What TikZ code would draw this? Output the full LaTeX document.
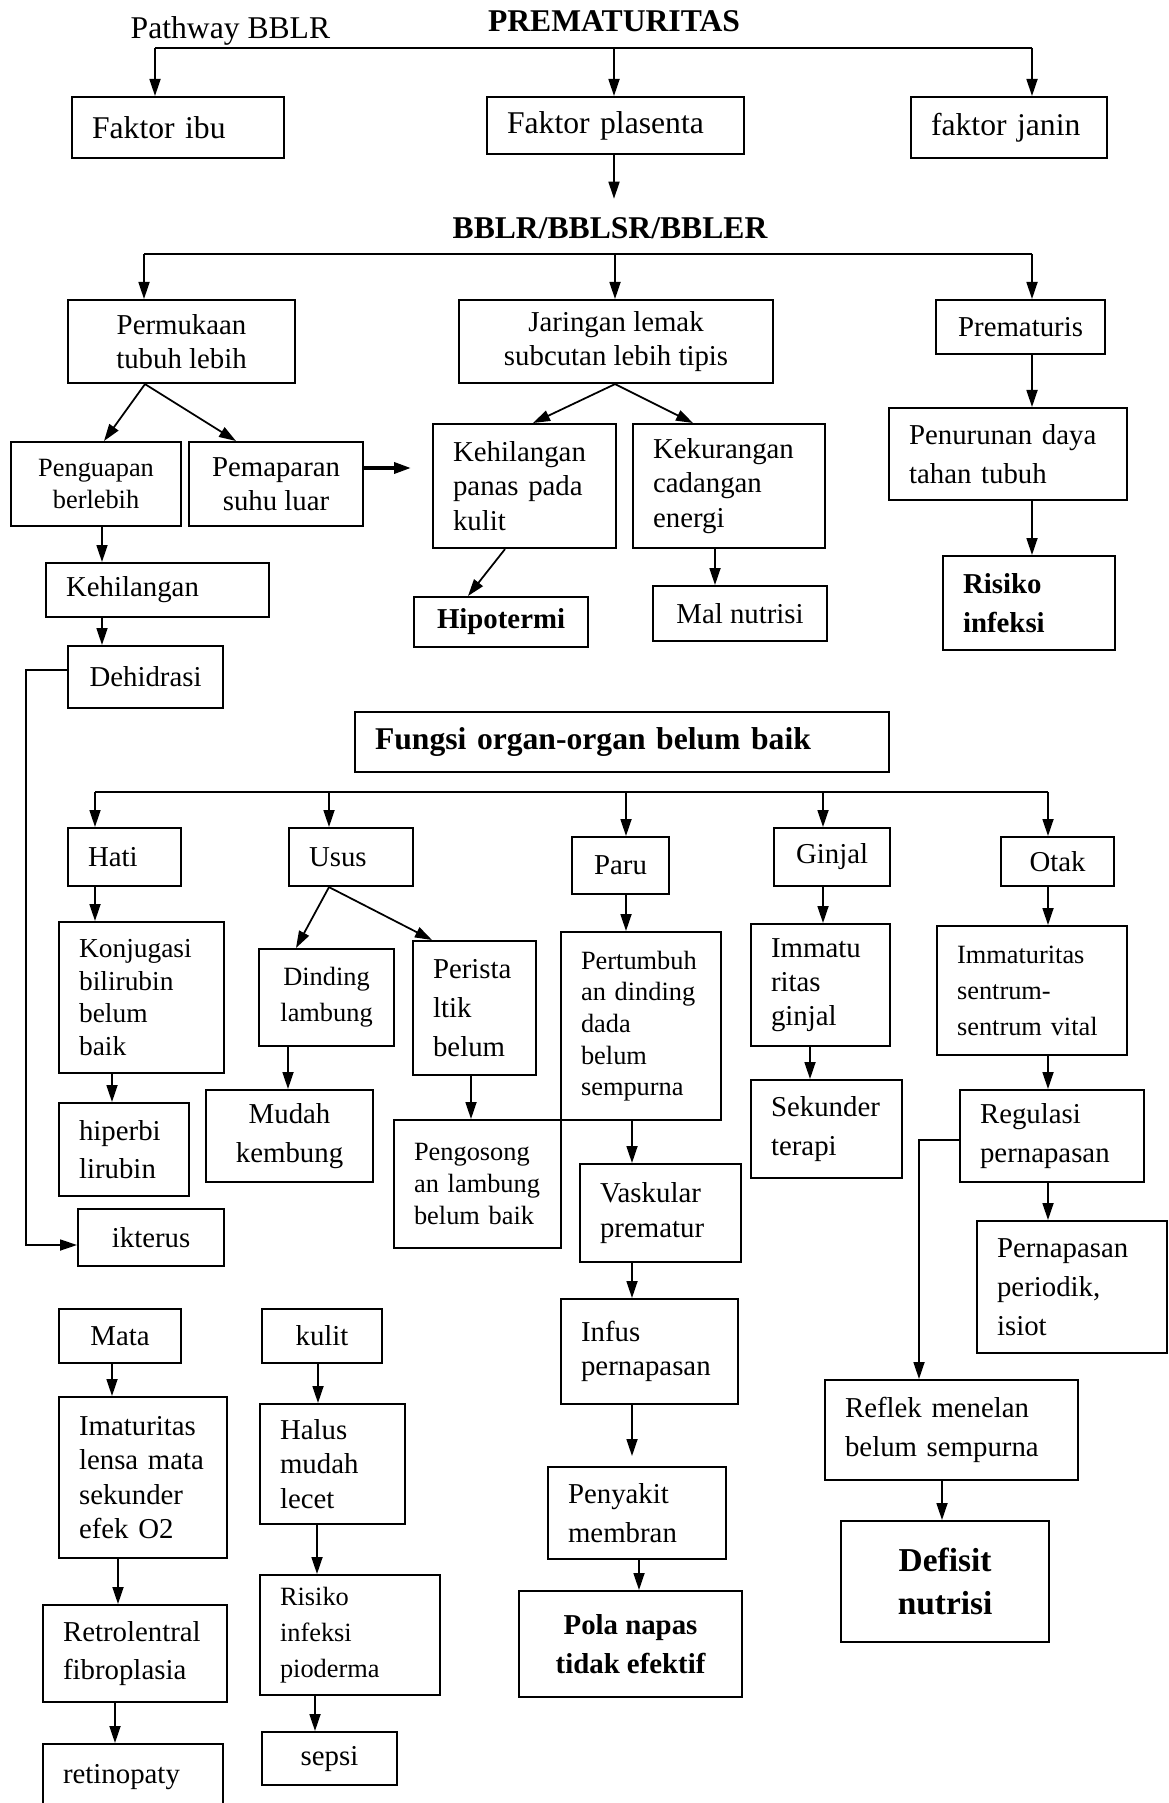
\documentclass[tikz,border=0pt]{standalone}
\usepackage{fontspec}
\setmainfont{Liberation Serif}
\usetikzlibrary{arrows.meta}
\tikzstyle{box}=[draw, line width=0.6pt, anchor=north west, inner xsep=2mm, inner ysep=0pt, align=left]
\tikzstyle{ctr}=[align=center]
\tikzstyle{arr}=[draw, line width=0.5pt, -{Triangle[length=1.7mm,width=1.1mm]}]
\tikzstyle{link}=[draw, line width=0.5pt]
\tikzset{
  fbig/.style={font=\fontsize{9}{10.5}\selectfont}, fhead/.style={font=\fontsize{9}{10.5}\selectfont\bfseries},
  fwide/.style={font=\fontsize{8.2}{11}\selectfont}, fbold/.style={font=\fontsize{8.2}{9.7}\selectfont\bfseries},
  fboldw/.style={font=\fontsize{8.2}{11}\selectfont\bfseries}, fdef/.style={font=\fontsize{9.5}{12.4}\selectfont\bfseries},
  fkonj/.style={font=\fontsize{7.8}{9.3}\selectfont}, fsmall/.style={font=\fontsize{7.5}{9}\selectfont},
  fsmallw/.style={font=\fontsize{7.5}{10.2}\selectfont}
  }

\begin{document}
\begin{tikzpicture}[x=0.1mm, y=-0.1mm, font=\fontsize{8.2}{9.7}\selectfont]
\useasboundingbox (0,0) rectangle (1168,1803);

% headings
\node[fbig, anchor=west, inner sep=0pt] (path) at (130,31) {Pathway BBLR};
\node[fhead, inner sep=0pt] (tprem) at (614,21) {PREMATURITAS};
\node[fhead, inner sep=0pt] (bblr) at (610,228) {BBLR/BBLSR/BBLER};

% faktor
\node[box, fbig, minimum width=21.2mm, minimum height=6.1mm, text width=17.2mm] (fibu) at (71,96) {Faktor ibu};
\node[box, fbig, minimum width=25.7mm, minimum height=5.7mm, text width=21.7mm] (fpla) at (486,96) {Faktor plasenta};
\node[box, fbig, minimum width=19.6mm, minimum height=6.1mm, text width=15.6mm] (fjan) at (910,96) {faktor janin};

% BBLR
\node[box, ctr, minimum width=22.7mm, minimum height=8.3mm] (perm) at (67,299) {Permukaan\\tubuh lebih};
\node[box, ctr, minimum width=31.4mm, minimum height=8.3mm] (jar) at (458,299) {Jaringan lemak\\subcutan lebih tipis};
\node[box, ctr, minimum width=16.9mm, minimum height=5.4mm] (prem) at (935,299) {Prematuris};
\node[box, fwide, minimum width=23.8mm, minimum height=9.2mm, text width=19.8mm] (penur) at (888,407) {Penurunan daya\\tahan tubuh};
\node[box, fboldw, minimum width=17.2mm, minimum height=9.4mm, text width=13.2mm] (risk) at (942,555) {Risiko\\infeksi};
\node[box, ctr, fsmall, minimum width=17mm, minimum height=8.4mm] (peng) at (10,441) {Penguapan\\berlebih};
\node[box, ctr, minimum width=17.4mm, minimum height=8.4mm] (pema) at (188,441) {Pemaparan\\suhu luar};
\node[box, minimum width=18.3mm, minimum height=12.4mm, text width=14.3mm] (khp) at (432,423) {Kehilangan\\panas pada\\kulit};
\node[box, minimum width=19.2mm, minimum height=12.4mm, text width=15.2mm] (kek) at (632,423) {Kekurangan\\cadangan\\energi};
\node[box, minimum width=22.3mm, minimum height=5.4mm, text width=18.3mm] (kehil) at (45,562) {Kehilangan};
\node[box, ctr, minimum width=15.5mm, minimum height=6.2mm] (dehi) at (67,645) {Dehidrasi};
\node[box, ctr, fbold, minimum width=17.4mm, minimum height=5mm] (hipo) at (413,596) {Hipotermi};
\node[box, ctr, minimum width=17.4mm, minimum height=5.5mm] (mal) at (652,585) {Mal nutrisi};

% organ
\node[box, fhead, minimum width=53.4mm, minimum height=6mm, text width=49.4mm] (fung) at (354,711) {Fungsi organ-organ belum baik};
\node[box, minimum width=11.3mm, minimum height=5.8mm, text width=7.3mm] (hati) at (67,827) {Hati};
\node[box, minimum width=12.4mm, minimum height=5.8mm, text width=8.4mm] (usus) at (288,827) {Usus};
\node[box, ctr, minimum width=9.7mm, minimum height=5.7mm] (paru) at (571,836) {Paru};
\node[box, ctr, minimum width=11.6mm, minimum height=5.8mm] (ginj) at (773,827) {Ginjal};
\node[box, ctr, minimum width=11.3mm, minimum height=4.9mm] (otak) at (1000,836) {Otak};

\node[box, fkonj, minimum width=16.5mm, minimum height=15.1mm, text width=12.5mm] (konj) at (58,921) {Konjugasi\\bilirubin\\belum\\baik};
\node[box, fwide, minimum width=13mm, minimum height=9.3mm, text width=9mm] (hiper) at (58,1102) {hiperbi\\lirubin};
\node[box, ctr, minimum width=14.6mm, minimum height=5.7mm] (ikt) at (77,1208) {ikterus};
\node[box, ctr, fsmallw, minimum width=13.5mm, minimum height=9.7mm] (dind) at (258,948) {Dinding\\lambung};
\node[box, fwide, minimum width=12.3mm, minimum height=13.4mm, text width=8.3mm] (peri) at (412,940) {Perista\\ltik\\belum};
\node[box, ctr, fwide, minimum width=16.7mm, minimum height=9.2mm] (mudah) at (205,1089) {Mudah\\kembung};
\node[box, fsmall, minimum width=16.7mm, minimum height=12.8mm, text width=12.7mm] (pengos) at (393,1119) {Pengosong\\an lambung\\belum baik};
\node[box, fsmall, minimum width=16mm, minimum height=18.8mm, text width=12mm] (pert) at (560,931) {Pertumbuh\\an dinding\\dada\\belum\\sempurna};
\node[box, minimum width=16.1mm, minimum height=9.8mm, text width=12.1mm] (vask) at (579,1163) {Vaskular\\prematur};
\node[box, minimum width=17.7mm, minimum height=10.5mm, text width=13.7mm] (infus) at (560,1298) {Infus\\pernapasan};
\node[box, fwide, minimum width=17.8mm, minimum height=9.2mm, text width=13.8mm] (peny) at (547,1466) {Penyakit\\membran};
\node[box, ctr, fboldw, minimum width=22.3mm, minimum height=10.6mm] (pola) at (518,1590) {Pola napas\\tidak efektif};
\node[box, minimum width=13.9mm, minimum height=12.2mm, text width=9.9mm] (immg) at (750,923) {Immatu\\ritas\\ginjal};
\node[box, fwide, minimum width=15.1mm, minimum height=9.8mm, text width=11.1mm] (sek) at (750,1079) {Sekunder\\terapi};
\node[box, fsmallw, minimum width=19mm, minimum height=12.9mm, text width=15mm] (imms) at (936,925) {Immaturitas\\sentrum-\\sentrum vital};
\node[box, fwide, minimum width=18.4mm, minimum height=9.2mm, text width=14.4mm] (reg) at (959,1089) {Regulasi\\pernapasan};
\node[box, fwide, minimum width=19mm, minimum height=13.2mm, text width=15mm] (pper) at (976,1220) {Pernapasan\\periodik,\\isiot};
\node[box, fwide, minimum width=25.3mm, minimum height=10mm, text width=21.3mm] (refl) at (824,1379) {Reflek menelan\\belum sempurna};
\node[box, ctr, fdef, minimum width=20.8mm, minimum height=12.1mm] (def) at (840,1520) {Defisit\\nutrisi};

% mata, kulit
\node[box, ctr, minimum width=12.2mm, minimum height=5.4mm] (mata) at (58,1308) {Mata};
\node[box, minimum width=16.8mm, minimum height=16.1mm, text width=12.8mm] (imat) at (58,1396) {Imaturitas\\lensa mata\\sekunder\\efek O2};
\node[box, fwide, minimum width=18.4mm, minimum height=9.7mm, text width=14.4mm] (retro) at (42,1604) {Retrolentral\\fibroplasia};
\node[box, minimum width=18mm, minimum height=6.6mm, text width=14mm] (retin) at (42,1743) {retinopaty};
\node[box, ctr, minimum width=12mm, minimum height=5.4mm] (kulit) at (261,1308) {kulit};
\node[box, minimum width=14.5mm, minimum height=12mm, text width=10.5mm] (halus) at (259,1403) {Halus\\mudah\\lecet};
\node[box, fsmallw, minimum width=18mm, minimum height=12mm, text width=14mm] (rpio) at (259,1574) {Risiko\\infeksi\\pioderma};
\node[box, ctr, minimum width=13.5mm, minimum height=5.3mm] (sepsi) at (261,1731) {sepsi};

% bars
\coordinate (t1) at (155,48); \coordinate (t2) at (1032,48);
\coordinate (m1) at (144,254); \coordinate (m2) at (1032,254);
\coordinate (b1) at (95,792); \coordinate (b2) at (1048,792);
\path[link] (t1) -- (t2);
\path[link] (m1) -- (m2);
\path[link] (b1) -- (b2);
\foreach \b/\x in {fibu/155, fpla/614, fjan/1032}
    \path[arr] (t1 -| \x,0) -- (\b.north -| \x,0);
\foreach \b/\x in {perm/144, jar/615, prem/1032}
    \path[arr] (m1 -| \x,0) -- (\b.north -| \x,0);
\foreach \b/\x in {hati/95, usus/329, paru/626, ginj/823, otak/1048}
    \path[arr] (b1 -| \x,0) -- (\b.north -| \x,0);
\path[arr, shorten >=1.8mm] (fpla.south -| 614,0) -- (bblr.north -| 614,0);

% vertical arrows
\foreach \a/\b/\x in {prem/penur/1032, penur/risk/1032, kek/mal/715, peng/kehil/102, kehil/dehi/102,
    hati/konj/95, konj/hiper/112, dind/mudah/288, peri/pengos/471, paru/pert/626, pert/vask/632,
    vask/infus/632, peny/pola/639, ginj/immg/823, immg/sek/810, otak/imms/1048, imms/reg/1048,
    reg/pper/1048, refl/def/942, mata/imat/112, imat/retro/118, retro/retin/115,
    kulit/halus/318, halus/rpio/317, rpio/sepsi/315}
    \path[arr] (\a.south -| \x,0) -- (\b.north -| \x,0);
\path[arr, shorten >=1mm] (infus.south -| 632,0) -- (peny.north -| 632,0);

% diagonal arrows
\foreach \a/\xa/\b/\xb in {perm/145/peng/104, perm/145/pema/236, jar/615/khp/533, jar/615/kek/693,
    khp/505/hipo/468, usus/329/dind/296, usus/329/peri/432}
    \path[arr] (\a.south -| \xa,0) -- (\b.north -| \xb,0);

% side links
\path[arr, line width=1pt, shorten >=2.1mm] (pema.east |- 0,468) -- (khp.west |- 0,468);
\coordinate (dbend) at (26,1245);
\path[arr] (dehi.west |- 0,670) -| (dbend) -- (ikt.west |- dbend);
\path[arr] (reg.west |- 0,1140) -| (refl.north -| 919,0);

\end{tikzpicture}
\end{document}
